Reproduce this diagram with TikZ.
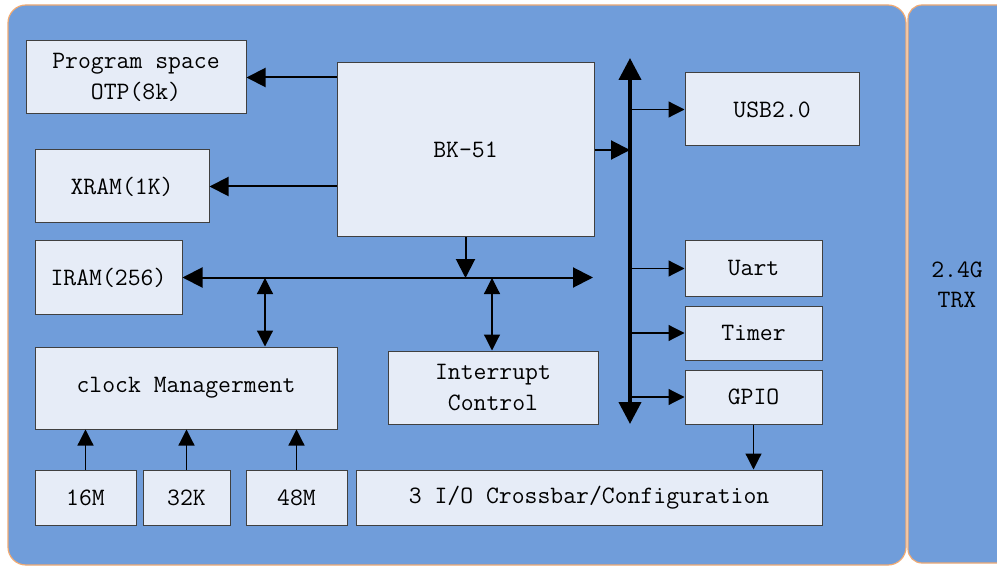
\documentclass[tikz,border=0pt]{standalone}
\usepackage{fontspec}
\usepackage{tikz}
\usetikzlibrary{arrows.meta}
\definecolor{chipblue}{RGB}{112,157,218}
\definecolor{boxfill}{RGB}{230,236,247}
\definecolor{rimorange}{RGB}{240,170,115}
\tikzset{blk/.style={draw=black!75, fill=boxfill, line width=1pt, inner sep=0pt, align=center, font=\fontsize{25}{31}\selectfont\ttfamily},
  thinarr/.style={-{Triangle[length=16pt,width=16pt]}, line width=1.2pt},
  medarr/.style={-{Triangle[length=19pt,width=19pt]}, line width=2pt},
  dblarr/.style={{Triangle[length=16pt,width=16pt]}-{Triangle[length=16pt,width=16pt]}, line width=1.2pt}}

\begin{document}
\begin{tikzpicture}[x=1pt, y=-1pt]
\useasboundingbox (0,0) rectangle (997,567);
\fill[white] (0,0) rectangle (997,567);
\begin{scope}
  \clip (0,0) rectangle (997,567);
  \draw[rimorange, fill=chipblue, line width=1.2pt, rounded corners=18pt] (8,5) rectangle (906,565);
  \draw[rimorange, fill=chipblue, line width=1.2pt, rounded corners=14pt] (908,5) rectangle (1030,563);
\end{scope}

% memories and cpu
\node[blk, minimum width=220pt, minimum height=73pt] (otp) at (136,77.5) {Program space\\OTP(8k)};
\node[blk, minimum width=174pt, minimum height=73pt] (xram) at (122,186.5) {XRAM(1K)};
\node[blk, minimum width=147pt, minimum height=73pt] (iram) at (108.5,277.5) {IRAM(256)};
\node[blk, minimum width=257pt, minimum height=174pt] (cpu) at (465.5,150) {BK-51};

% clocks
\node[blk, minimum width=302pt, minimum height=82pt] (clk) at (186,388) {clock Managerment};
\node[blk, minimum width=101pt, minimum height=55pt] (osca) at (85.5,497.5) {16M};
\node[blk, minimum width=87pt, minimum height=55pt] (oscb) at (186.5,497.5) {32K};
\node[blk, minimum width=101pt, minimum height=55pt] (oscc) at (296.5,497.5) {48M};
\node[blk, minimum width=466pt, minimum height=55pt] (xbar) at (589,497.5) {3 I/O Crossbar/Configuration};
\node[blk, minimum width=210pt, minimum height=73pt] (irq) at (493,387.5) {Interrupt\\Control};

% peripherals
\node[blk, minimum width=174pt, minimum height=73pt] (usb) at (772,109.5) {USB2.0};
\node[blk, minimum width=137pt, minimum height=55pt] (uart) at (753.5,268.5) {Uart};
\node[blk, minimum width=137pt, minimum height=54pt] (timer) at (753.5,333) {Timer};
\node[blk, minimum width=137pt, minimum height=54pt] (gpio) at (753.5,397) {GPIO};
\node[align=center, font=\fontsize{25}{30}\selectfont\ttfamily] (trx) at (957,285) {2.4G\\TRX};

\coordinate (vtop) at (630,58);
\coordinate (vbot) at (630,424);
\coordinate (hend) at (593,278);
\coordinate (tapclk) at (265,278);
\coordinate (tapirq) at (492,278);

% buses
\draw[{Triangle[length=22pt,width=22pt]}-{Triangle[length=22pt,width=22pt]}, line width=4pt] (vbot) -- (vtop);
\draw[{Triangle[length=20pt,width=20pt]}-{Triangle[length=20pt,width=20pt]}, line width=2pt] (iram.east) -- (iram.east -| hend);

\draw[medarr] (cpu.west |- otp.east) -- (otp.east);
\draw[medarr] (cpu.west |- xram.east) -- (xram.east);
\draw[medarr] (cpu.east) -- (cpu.east -| vtop);
\draw[medarr] (cpu.south) -- (cpu.south |- hend);

\draw[thinarr] (usb.west -| vtop) -- (usb.west);
\draw[thinarr] (uart.west -| vtop) -- (uart.west);
\draw[thinarr] (timer.west -| vtop) -- (timer.west);
\draw[thinarr] (gpio.west -| vtop) -- (gpio.west);
\draw[thinarr] (gpio.south) -- (gpio.south |- xbar.north);

\draw[dblarr] (tapclk) -- (tapclk |- clk.north);
\draw[dblarr] (tapirq) -- (tapirq |- irq.north);

\draw[thinarr] (osca.north) -- (osca.north |- clk.south);
\draw[thinarr] (oscb.north) -- (oscb.north |- clk.south);
\draw[thinarr] (oscc.north) -- (oscc.north |- clk.south);
\end{tikzpicture}
\end{document}
